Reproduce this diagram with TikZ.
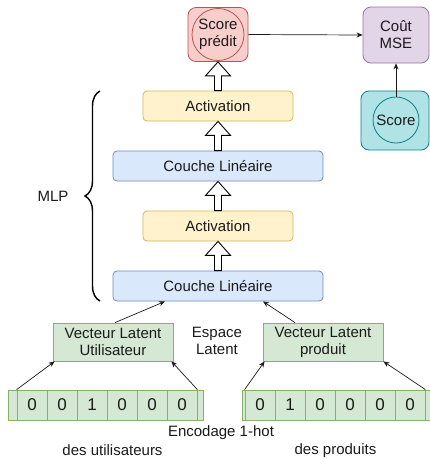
\documentclass[tikz,border=0pt]{standalone}
\usepackage{fontspec}
\setmainfont{Liberation Sans}
\usetikzlibrary{calc,arrows.meta,decorations.pathreplacing}

% draw.io palette
\definecolor{bluefill}{HTML}{DAE8FC}\definecolor{bluedraw}{HTML}{6C8EBF}
\definecolor{yelfill}{HTML}{FFF2CC}\definecolor{yeldraw}{HTML}{D6B656}
\definecolor{grnfill}{HTML}{D5E8D4}\definecolor{grndraw}{HTML}{82B366}
\definecolor{redfill}{HTML}{F8CECC}\definecolor{reddraw}{HTML}{B85450}
\definecolor{purfill}{HTML}{E1D5E7}\definecolor{purdraw}{HTML}{9673A6}
\definecolor{tealfill}{HTML}{B0E3E6}\definecolor{tealdraw}{HTML}{0E8088}
\definecolor{ink}{HTML}{1A1A1A}

% wide hollow arrow pointing up from node #1 to node #2
\newcommand\hollowup[2]{%
  \draw[hollow] let \p1=(#1.north), \p2=(#2.south) in
    (\x1-3.5pt,\y1) -- (\x1-3.5pt,\y2-14pt) -- (\x1-12.5pt,\y2-14pt) --
    (\x1,\y2) -- (\x1+12.5pt,\y2-14pt) -- (\x1+3.5pt,\y2-14pt) --
    (\x1+3.5pt,\y1) -- cycle;}

\begin{document}
\begin{tikzpicture}[x=1pt,y=-1pt,
  every node/.style={font=\fontsize{15}{17}\selectfont, text=ink, inner sep=0pt},
  layer/.style={draw, line width=0.8pt, rounded corners=4pt, minimum height=30pt},
  lin/.style={layer, fill=bluefill, draw=bluedraw, minimum width=210pt},
  act/.style={layer, fill=yelfill, draw=yeldraw, minimum width=150pt},
  latent/.style={draw=grndraw, fill=grnfill, line width=0.8pt, minimum width=120pt,
    minimum height=38pt, align=center},
  vecbox/.style={draw=grndraw, fill=grnfill, line width=0.8pt, minimum height=30pt},
  cell/.style={vecbox, minimum width=30pt, font=\fontsize{17}{19}\selectfont},
  bigbox/.style={draw, line width=0.8pt, rounded corners=8pt, align=center},
  ring/.style={circle, draw, line width=0.8pt, align=center},
  link/.style={-{Stealth[length=6pt,width=5pt]}, line width=0.7pt, ink},
  hollow/.style={draw=black, fill=white, line width=0.9pt, line join=miter},
  plain/.style={align=center}]

\clip (0,0) rectangle (430,459);

% output and loss
\node[bigbox, fill=redfill, draw=reddraw, minimum width=60pt, minimum height=54pt] (pred) at (218,34.5) {};
\node[ring, draw=reddraw, minimum size=52pt] (predc) at (pred.center) {Score\\prédit};
\node[bigbox, fill=purfill, draw=purdraw, minimum width=66pt, minimum height=56pt] (mse) at (396,35) {Coût\\MSE};
\node[bigbox, fill=tealfill, draw=tealdraw, minimum width=68pt, minimum height=59pt] (score) at (395,120.5) {};
\node[ring, draw=tealdraw, minimum size=46pt] (scorec) at (396,120) {Score};

% MLP layers
\node[act] (act1) at (218,106) {Activation};
\node[lin] (lin1) at (218,166) {Couche Linéaire};
\node[act] (act2) at (218,226) {Activation};
\node[lin] (lin2) at (218,286) {Couche Linéaire};

% latent vectors
\node[latent] (vlu) at (113,342) {Vecteur Latent\\Utilisateur};
\node[latent] (vlp) at (323,342) {Vecteur Latent\\produit};
\node[plain] (espace) at (217,341) {Espace\\Latent};

% one-hot encodings
\node[vecbox, minimum width=195pt] (uvec) at (105.5,405) {};
\foreach \v [count=\i] in {0,0,1,0,0,0}
  \node[cell] (u\i) at (2+30*\i,405) {\v};
\node[vecbox, minimum width=190pt] (pvec) at (337,405) {};
\foreach \v [count=\i] in {0,1,0,0,0,0}
  \node[cell] (p\i) at (230+30*\i,405) {\v};

\node (enc) at (221,432.5) {Encodage 1-hot};
\node (encu) at (112.5,450.5) {des utilisateurs};
\node (encp) at (335.5,450.5) {des produits};

% MLP brace
\coordinate (bbot) at (100,301);
\coordinate (btop) at (100,91);
\draw[decorate, decoration={brace, amplitude=15pt}, line width=1.4pt, black] (bbot) -- (btop);
\node (mlp) at (53,196) {MLP};

% connectors
\draw[link] (pred.east) -- (mse.west);
\draw[link] (scorec.north) -- (mse.south);
\draw[link] (u1.north west) -- ([xshift=2pt]vlu.south west);
\draw[link] (u6.north east) -- ([xshift=-2pt]vlu.south east);
\draw[link] (p1.north west) -- ([xshift=2pt]vlp.south west);
\draw[link] (p6.north east) -- (vlp.south east);
\draw[link] ([xshift=2pt]vlu.north) -- ([xshift=-53pt]lin2.south);
\draw[link] ([xshift=-28pt]vlp.north) -- ([xshift=45pt]lin2.south);

% data flow through the MLP
\hollowup{lin2}{act2}
\hollowup{act2}{lin1}
\hollowup{lin1}{act1}
\hollowup{act1}{pred}
\end{tikzpicture}
\end{document}
